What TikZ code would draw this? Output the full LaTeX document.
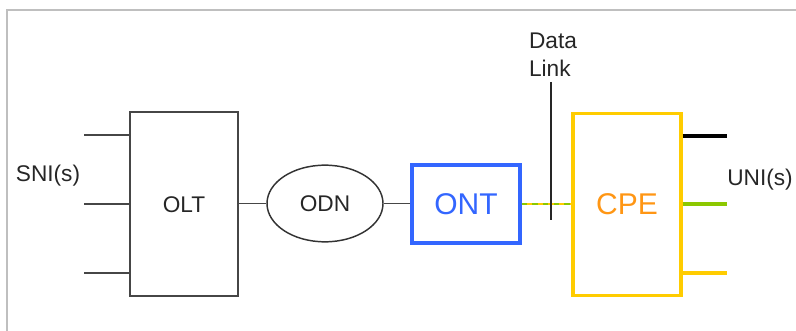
\documentclass[tikz,border=0pt]{standalone}
\usepackage{fontspec}
\setmainfont{Liberation Sans}
\usetikzlibrary{shapes.geometric}
\definecolor{ontblue}{RGB}{51,102,255}
\definecolor{cpeyellow}{RGB}{255,204,0}
\definecolor{cpeorange}{RGB}{255,150,20}
\definecolor{unigreen}{RGB}{140,200,0}
\definecolor{wire}{RGB}{70,70,70}
\tikzset{
  lbl/.style={font=\fontsize{17}{21}\selectfont,text=black!85},
  box/.style={draw=wire,line width=1.5pt,inner sep=0pt,lbl},
  bigbox/.style={line width=2.4pt,inner sep=0pt,font=\fontsize{22.5}{26}\selectfont},
  wireline/.style={draw=wire,line width=1.2pt},
}
\begin{document}
\begin{tikzpicture}[x=0.75pt,y=-0.75pt]
  \useasboundingbox (0,0) rectangle (796,331);
  \draw[black!25,line width=1.2pt] (7,331) -- (7,10) -- (796,10);
  % boxes along the access line
  \node[box,minimum width=81pt,minimum height=138pt] (olt) at (184,204.5) {OLT};
  \node[box,ellipse,draw=black!80,line width=1.1pt,minimum width=87pt,minimum height=57.5pt] (odn) at (325,203.5) {ODN};
  \node[bigbox,draw=ontblue,text=ontblue,minimum width=81pt,minimum height=58.5pt] (ont) at (466,204) {ONT};
  \node[bigbox,draw=cpeyellow,text=cpeorange,minimum width=81pt,minimum height=137pt] (cpe) at (627,204.5) {CPE};
  % SNI side
  \foreach \y/\n in {135/1,204/2,273/3}
    \coordinate (sni\n) at (84,\y);
  \foreach \n in {1,2,3}
    \draw[wireline] (sni\n) -- (sni\n -| olt.west);
  \node[lbl] (snilbl) at (48,176) {SNI(s)};
  \draw[wireline] (olt.east |- odn.west) -- (odn.west);
  \draw[wireline] (odn.east) -- (ont.west |- odn.east);
  % data link
  \draw[cpeyellow,line width=1.8pt] (ont.east) -- (cpe.west |- ont.east);
  \draw[unigreen,line width=1.8pt,dash pattern=on 4pt off 4pt] (ont.east) -- (cpe.west |- ont.east);
  \coordinate (dltop) at (551,82);
  \coordinate (dlbot) at (551,220);
  \draw[black!85,line width=1.1pt] (dltop) -- (dlbot);
  \node[lbl,align=left,anchor=south,inner sep=0pt] (dllbl) at (553,77) {Data\\Link};
  % UNI side
  \coordinate (uni1) at (727,136);
  \coordinate (uni2) at (727,204);
  \coordinate (uni3) at (727,273);
  \draw[black,line width=2.4pt] (uni1 -| cpe.east) -- (uni1);
  \draw[unigreen,line width=2.4pt] (uni2 -| cpe.east) -- (uni2);
  \draw[cpeyellow,line width=2.4pt] (uni3 -| cpe.east) -- (uni3);
  \node[lbl,anchor=west,inner sep=0pt] (unilbl) at (727,180) {UNI(s)};
\end{tikzpicture}
\end{document}
